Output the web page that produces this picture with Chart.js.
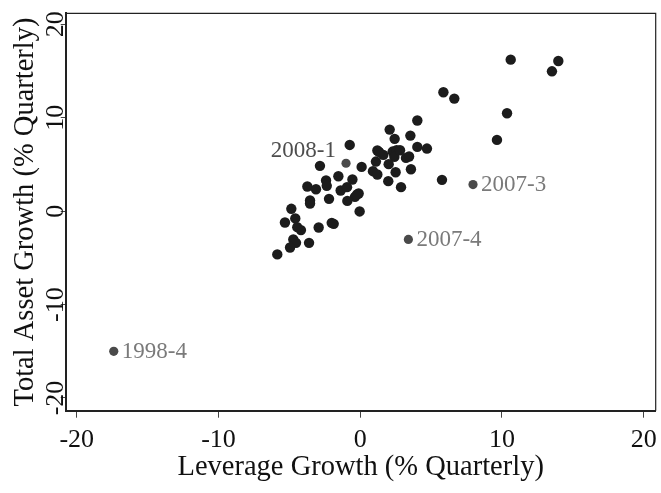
<!DOCTYPE html>
<html>
<head>
<meta charset="utf-8">
<script src="https://cdn.jsdelivr.net/npm/chart.js@4.4.1/dist/chart.umd.min.js"></script>
<style>
html,body{margin:0;padding:0;background:#fff;}
#wrap{width:661px;height:493px;position:relative;}
</style>
</head>
<body>
<div id="wrap"><canvas id="c"></canvas></div>
<script>
// ---- data ----
const leverageGrowth = [
  10.62, 13.98, 13.53, 5.87, 6.64, 10.36, 9.65, 4.03, 2.08, 2.43,
  3.54, -0.74, 1.21, 1.63, 2.29, 2.57, 2.41, 4.03, 4.71, 3.23,
  3.45, 1.11, 2.01, 0.90, 1.21, 2.50, 3.58, 1.98, 2.88, 0.10,
  -2.84, -1.54, -0.55, -2.41, -2.36, -3.73, -3.12, -1.38, -0.93, -2.20,
  -3.54, -3.54, -0.37, -0.11, -0.91, -0.04, 5.77, -2.01, -1.87, -2.93,
  -4.18, -3.61, -4.86, -4.58, -5.31, -4.44, -4.72, -4.53, -4.95, -5.85,
  -0.22, 1.33, 2.81
];
const assetGrowth = [
  16.22, 16.07, 14.97, 12.73, 12.05, 10.48, 7.63, 9.70, 8.73, 7.74,
  8.09, 7.09, 6.49, 6.02, 6.38, 6.52, 5.81, 6.88, 6.70, 5.70,
  5.85, 5.31, 5.03, 4.28, 3.92, 4.17, 4.49, 3.21, 2.57, 4.74,
  4.85, 3.74, 3.39, 3.28, 2.71, 2.64, 2.35, 2.21, 2.57, 1.32,
  1.14, 0.82, 1.53, 1.89, 1.10, -0.03, 3.35, -1.25, -1.36, -1.75,
  -2.03, -3.39, 0.25, -0.78, -1.21, -1.71, -3.03, -3.39, -3.89, -4.63,
  1.80, 6.34, 6.52
];
const labeledNames = ['2008-1', '2007-3', '2007-4', '1998-4'];
const labeledLeverage = [-1.00, 7.96, 3.40, -17.39];
const labeledAsset = [5.13, 2.85, -3.03, -15.00];
const xTickValues = [-20, -10, 0, 10, 20];
const yTickValues = [-20, -10, 0, 10, 20];
const xAxisTitle = 'Leverage Growth (% Quarterly)';
const yAxisTitle = 'Total Asset Growth (% Quarterly)';

// ---- styling ----
const FONT = "'Liberation Serif', 'Times New Roman', serif";

const mainPoints = leverageGrowth.map((x, i) => ({x: x, y: assetGrowth[i]}));
const labeledPoints = labeledLeverage.map((x, i) => ({x: x, y: labeledAsset[i]}));

const boxPlugin = {
  id: 'box',
  beforeDatasetsDraw(chart) {
    const {ctx, chartArea: a} = chart;
    ctx.save();
    ctx.strokeStyle = '#222';
    ctx.lineWidth = 1.2;
    ctx.beginPath();
    ctx.moveTo(a.left, a.top);
    ctx.lineTo(a.right, a.top);
    ctx.lineTo(a.right, a.bottom);
    ctx.stroke();
    ctx.restore();
  }
};

const labelPlugin = {
  id: 'pointLabels',
  afterDatasetsDraw(chart, args, opts) {
    const {ctx} = chart;
    const xs = chart.scales.x, ys = chart.scales.y;
    ctx.save();
    ctx.font = opts.fontSize + 'px ' + FONT;
    ctx.textBaseline = 'middle';
    labeledNames.forEach((name, i) => {
      const px = xs.getPixelForValue(labeledLeverage[i]);
      const py = ys.getPixelForValue(labeledAsset[i]);
      const place = opts.placement[name] || 'right';
      if (place === 'upperleft') {
        ctx.fillStyle = opts.darkColor;
        ctx.textAlign = 'right';
        ctx.fillText(name, px - 10, py - 12);
      } else {
        ctx.fillStyle = opts.color;
        ctx.textAlign = 'left';
        ctx.fillText(name, px + 8, py + 0.5);
      }
    });
    ctx.restore();
  }
};

new Chart(document.getElementById('c'), {
  type: 'scatter',
  data: {
    datasets: [
      {
        data: mainPoints,
        backgroundColor: '#1c1c1c',
        borderColor: '#1c1c1c',
        borderWidth: 0,
        pointRadius: 5.2,
        pointHoverRadius: 5.2
      },
      {
        data: labeledPoints,
        backgroundColor: '#4a4a4a',
        borderColor: '#4a4a4a',
        borderWidth: 0,
        pointRadius: 4.6,
        pointHoverRadius: 4.6
      }
    ]
  },
  options: {
    responsive: true,
    maintainAspectRatio: false,
    animation: false,
    events: [],
    layout: {padding: {top: 13.3, right: 5.3, left: 0, bottom: 0}},
    plugins: {
      legend: {display: false},
      tooltip: {enabled: false},
      pointLabels: {
        fontSize: 23,
        color: '#7a7a7a',
        darkColor: '#4d4d4d',
        placement: {'2008-1': 'upperleft'}
      }
    },
    scales: {
      x: {
        type: 'linear',
        min: -20.78,
        max: 20.85,
        afterBuildTicks: s => { s.ticks = xTickValues.map(v => ({value: v})); },
        afterFit: s => { s.height = 82.3; s.paddingLeft = 0; s.paddingRight = 0; },
        grid: {drawOnChartArea: false, drawTicks: true, tickLength: 7, tickColor: '#444', tickWidth: 1},
        border: {color: '#222', width: 2},
        ticks: {font: {family: FONT, size: 26}, color: '#111', padding: 7, maxRotation: 0, minRotation: 0, autoSkip: false},
        title: {display: true, text: xAxisTitle, font: {family: FONT, size: 28.5}, color: '#111', padding: {top: 0, bottom: 8}}
      },
      y: {
        type: 'linear',
        min: -21.36,
        max: 21.18,
        afterBuildTicks: s => { s.ticks = yTickValues.map(v => ({value: v})); },
        afterFit: s => { s.width = 65.7; s.paddingTop = 0; s.paddingBottom = 0; },
        grid: {drawOnChartArea: false, drawTicks: true, tickLength: 5, tickColor: '#444', tickWidth: 1},
        border: {color: '#222', width: 2},
        ticks: {font: {family: FONT, size: 26}, color: '#111', padding: -13.1, minRotation: 90, maxRotation: 90, crossAlign: 'center', autoSkip: false},
        title: {display: true, text: yAxisTitle, font: {family: FONT, size: 28.5}, color: '#111', padding: {top: 8, bottom: 0}}
      }
    }
  },
  plugins: [boxPlugin, labelPlugin]
});
</script>
</body>
</html>
